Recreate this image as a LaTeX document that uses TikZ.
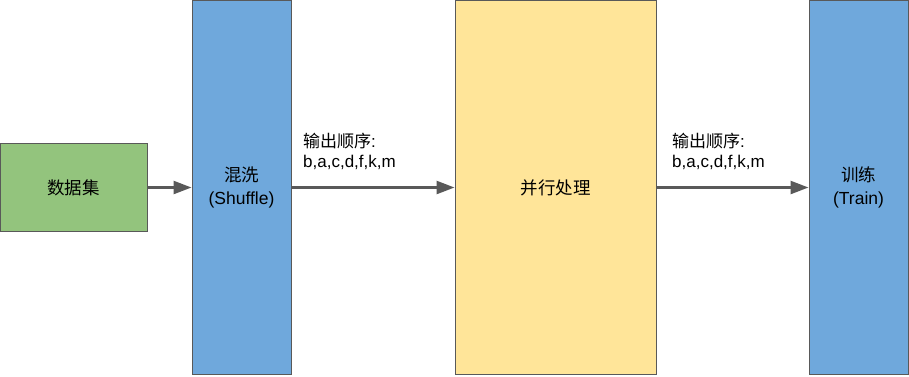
\documentclass[tikz,border=0pt]{standalone}
\usepackage{fontspec}
\setmainfont{Liberation Sans}
\newfontfamily\cjk{Noto Sans CJK SC}
\usetikzlibrary{arrows.meta}
\usetikzlibrary{shapes}

\definecolor{stepgreen}{HTML}{93C47D}
\definecolor{stepblue}{HTML}{6FA8DC}
\definecolor{stepyellow}{HTML}{FFE599}
\definecolor{edgegray}{HTML}{595959}

\begin{document}
\begin{tikzpicture}[x=1pt, y=-1pt]

\tikzstyle{block}=[rectangle, draw=edgegray, line width=1pt, inner sep=0pt, align=center, font=\fontsize{17.5}{23}\selectfont]
\tikzstyle{tall}=[block, minimum width=99pt, minimum height=374pt, fill=stepblue]
\tikzstyle{note}=[anchor=north west, align=left, inner sep=0pt, font=\fontsize{17}{20.5}\selectfont]

\tikzstyle{connect}=[-{Triangle[length=18pt, width=13pt]}, line width=2.5pt, color=edgegray]

\useasboundingbox (0,0) rectangle (909,376);

\node[block, fill=stepgreen, minimum width=147pt, minimum height=88pt] (data) at (73.5,187.5) {{\cjk 数据集}};
\node[tall] (shuffle) at (241.5,187.5) {{\cjk 混洗}\\(Shuffle)};
\node[block, fill=stepyellow, minimum width=201pt, minimum height=374pt] (proc) at (555.5,187.5) {{\cjk 并行处理}};
\node[tall] (train) at (858.5,187.5) {{\cjk 训练}\\(Train)};

\node[note] (order1) at (303,132.5) {{\cjk 输出顺序}:\\b,a,c,d,f,k,m};
\node[note] (order2) at (672,132.5) {{\cjk 输出顺序}:\\b,a,c,d,f,k,m};

\path (data) [connect]  edge (shuffle);
\path (shuffle) [connect]  edge (proc);
\path (proc) [connect]  edge (train);

\end{tikzpicture}
\end{document}
